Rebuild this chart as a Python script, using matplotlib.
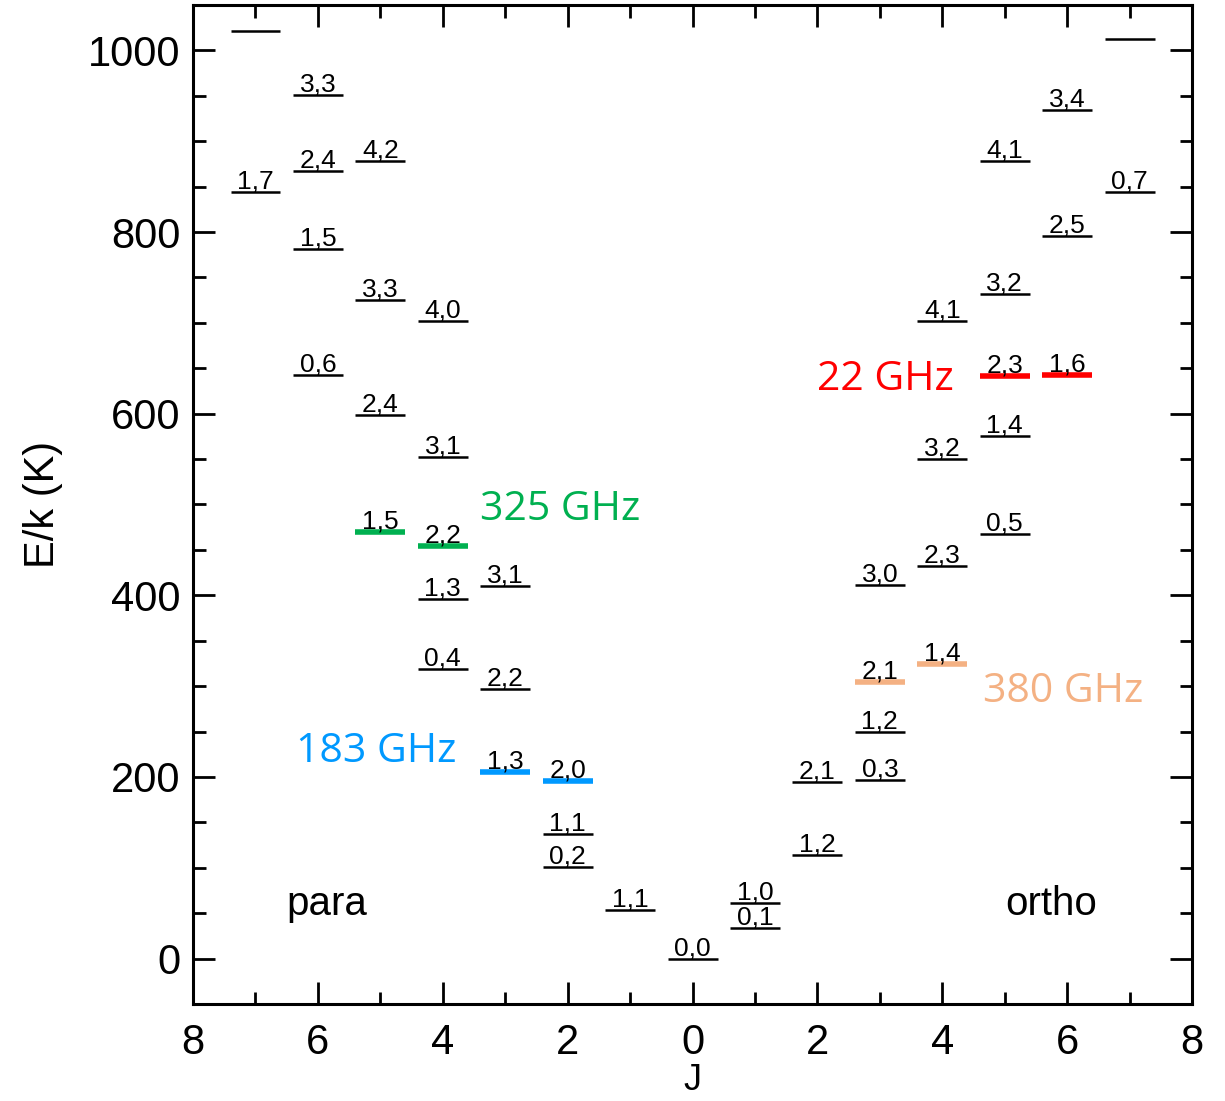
import matplotlib
matplotlib.use('Agg')
import matplotlib.pyplot as plt
from matplotlib.ticker import MultipleLocator, FuncFormatter

# para levels (plotted at -J)
para_J = [7, 7, 6, 6, 6, 6, 5, 5, 5, 5, 4, 4, 4, 4, 4, 3, 3, 3, 2, 2, 2, 1, 0]
para_lbl = ['', '1,7', '3,3', '2,4', '1,5', '0,6', '4,2', '3,3', '2,4', '1,5',
            '4,0', '3,1', '2,2', '1,3', '0,4', '3,1', '2,2', '1,3', '2,0', '1,1',
            '0,2', '1,1', '0,0']
para_E = [1021, 844, 951, 867, 781, 643, 878, 725, 599, 470, 702, 552, 454, 396,
          319, 410, 297, 205, 196, 137, 101, 53, 0]

# ortho levels (plotted at +J)
ortho_J = [7, 7, 6, 6, 6, 5, 5, 5, 5, 5, 4, 4, 4, 4, 3, 3, 3, 3, 2, 2, 1, 1]
ortho_lbl = ['', '0,7', '3,4', '2,5', '1,6', '4,1', '3,2', '2,3', '1,4', '0,5',
             '4,1', '3,2', '2,3', '1,4', '3,0', '2,1', '1,2', '0,3', '2,1', '1,2',
             '1,0', '0,1']
ortho_E = [1013, 844, 934, 796, 643, 878, 732, 642, 575, 468, 702, 550, 432, 324,
           411, 305, 249, 197, 194, 114, 61, 34]

# highlighted transitions: name -> levels (signed J, label)
trans_name = ['22 GHz', '183 GHz', '325 GHz', '380 GHz']
trans_levels = [[(5, '2,3'), (6, '1,6')],
                [(-3, '1,3'), (-2, '2,0')],
                [(-5, '1,5'), (-4, '2,2')],
                [(3, '2,1'), (4, '1,4')]]
trans_color = ['#FF0000', '#0099FF', '#00B050', '#F4B183']
trans_text_xy = [(2.0, 637), (-6.35, 228), (-3.4, 494), (4.65, 294)]

x_all = [-j for j in para_J] + ortho_J
lbl_all = para_lbl + ortho_lbl
E_all = para_E + ortho_E

plt.rcParams['font.family'] = ['Liberation Sans', 'DejaVu Sans']

fig = plt.figure(figsize=(12.25, 11.01), dpi=100)
ax = fig.add_axes([0.1576, 0.0881, 0.8155, 0.9074])

hl = {}
for name, levs, col in zip(trans_name, trans_levels, trans_color):
    for lv in levs:
        hl[lv] = col

w = 0.4
for x, lbl, e in zip(x_all, lbl_all, E_all):
    col = hl.get((x, lbl))
    if col:
        ax.hlines(e, x - w, x + w, color=col, lw=4)
    else:
        ax.hlines(e, x - w, x + w, color='black', lw=1.8)
    if lbl:
        ax.annotate(lbl, (x, e), xytext=(0, 2.5), textcoords='offset points',
                    ha='center', va='baseline', fontsize=19)

for name, col, (tx, ty) in zip(trans_name, trans_color, trans_text_xy):
    ax.text(tx, ty, name, color=col, fontsize=29.5, ha='left', va='center',
            family=['Open Sans', 'DejaVu Sans'])

ax.text(-5.85, 48, 'para', fontsize=29, ha='center', va='baseline')
ax.text(5.75, 48, 'ortho', fontsize=29, ha='center', va='baseline')

ax.set_xlim(-8, 8)
ax.set_ylim(-50, 1050)
ax.xaxis.set_major_locator(MultipleLocator(2))
ax.xaxis.set_minor_locator(MultipleLocator(1))
ax.yaxis.set_major_locator(MultipleLocator(200))
ax.yaxis.set_minor_locator(MultipleLocator(50))
ax.xaxis.set_major_formatter(FuncFormatter(lambda v, p: '%d' % abs(v)))
ax.tick_params(which='both', direction='in', top=True, right=True, width=2,
               labelsize=30)
ax.tick_params(which='major', length=16)
ax.tick_params(which='minor', length=9)
ax.tick_params(axis='x', which='major', pad=14)
ax.tick_params(axis='y', which='major', pad=9)
for s in ax.spines.values():
    s.set_linewidth(2.2)

ax.set_xlabel('J', fontsize=26, labelpad=0)
ax.set_ylabel('E/k (K)', fontsize=30, labelpad=18)

fig.savefig('out.png', dpi=100)
